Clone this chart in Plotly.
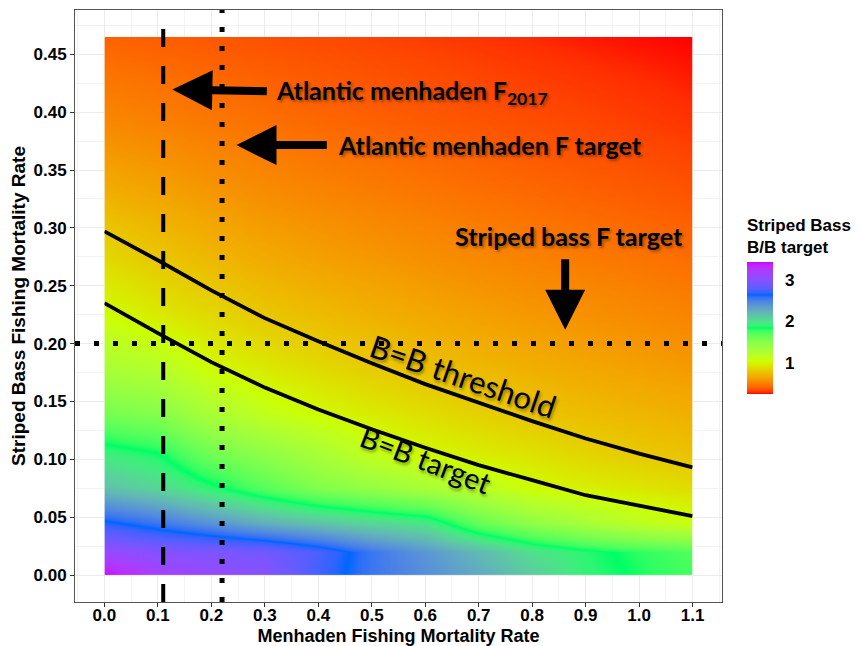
import numpy as np
import plotly.graph_objects as go

# ---------------- data ----------------
# grid of model runs: menhaden F (x) and striped bass F (y)
menhaden_F_grid = [0.0, 0.1, 0.2, 0.3, 0.4, 0.5, 0.6, 0.7, 0.8, 0.9, 1.0, 1.1]
bass_F_grid = [0.0, 0.02, 0.045, 0.075, 0.105, 0.14, 0.18, 0.225, 0.275, 0.33, 0.39, 0.465]

# Striped bass B / B target (rows = bass F, cols = menhaden F)
ssb_ratio = [
    [3.43, 3.18, 3.08, 3.00, 2.72, 2.55, 2.42, 2.28, 2.10, 1.90, 1.82, 1.75],
    [3.08, 2.98, 2.95, 2.90, 2.75, 2.55, 2.38, 2.20, 2.00, 1.88, 1.80, 1.72],
    [2.67, 2.55, 2.40, 2.25, 2.15, 2.05, 1.97, 1.65, 1.45, 1.30, 1.15, 1.07],
    [2.16, 2.05, 1.88, 1.70, 1.52, 1.42, 1.30, 1.18, 1.03, 0.976, 0.933, 0.886],
    [1.93, 1.85, 1.60, 1.46, 1.30, 1.12, 1.02, 0.963, 0.91, 0.853, 0.80, 0.77],
    [1.57, 1.50, 1.28, 1.12, 1.02, 0.951, 0.891, 0.833, 0.782, 0.746, 0.715, 0.69],
    [1.28, 1.20, 1.02, 0.94, 0.875, 0.81, 0.762, 0.725, 0.689, 0.657, 0.628, 0.60],
    [1.04, 0.95, 0.868, 0.792, 0.741, 0.698, 0.661, 0.628, 0.597, 0.569, 0.544, 0.52],
    [0.87, 0.79, 0.722, 0.669, 0.628, 0.594, 0.563, 0.536, 0.510, 0.486, 0.463, 0.44],
    [0.69, 0.643, 0.594, 0.555, 0.523, 0.497, 0.473, 0.450, 0.429, 0.408, 0.388, 0.368],
    [0.54, 0.512, 0.481, 0.453, 0.429, 0.409, 0.390, 0.372, 0.354, 0.337, 0.319, 0.30],
    [0.41, 0.395, 0.38, 0.36, 0.345, 0.33, 0.315, 0.30, 0.285, 0.27, 0.26, 0.25],
]

# contour lines
curve_menhaden_F = [0.0, 0.1, 0.2, 0.3, 0.4, 0.5, 0.6, 0.7, 0.8, 0.9, 1.0, 1.1]
threshold_bass_F = [0.297, 0.272, 0.246, 0.222, 0.202, 0.183, 0.165, 0.149, 0.133, 0.118, 0.105, 0.093]
target_bass_F = [0.235, 0.209, 0.184, 0.162, 0.143, 0.126, 0.110, 0.095, 0.082, 0.069, 0.060, 0.051]

# reference values
menhaden_F2017 = 0.11
menhaden_F_target = 0.22
bass_F_target = 0.20

x_ticks = [0.0, 0.1, 0.2, 0.3, 0.4, 0.5, 0.6, 0.7, 0.8, 0.9, 1.0, 1.1]
y_ticks = [0.0, 0.05, 0.1, 0.15, 0.2, 0.25, 0.3, 0.35, 0.4, 0.45]
cbar_ticks = [1, 2, 3]
zmin, zmax = 0.25, 3.43

# ---------------- colour scale (rainbow(5) interpolated in Lab) ----------------
anchors = ["#FF0000", "#CCFF00", "#00FF66", "#0066FF", "#CC00FF"]
M = np.array([[0.4124, 0.3576, 0.1805], [0.2126, 0.7152, 0.0722], [0.0193, 0.1192, 0.9505]])
Minv = np.linalg.inv(M)
WHITE = np.array([0.95047, 1.0, 1.08883])
d = 6 / 29


def to_lab(h):
    c = np.array([int(h[i:i + 2], 16) / 255 for i in (1, 3, 5)])
    lin = np.where(c <= 0.04045, c / 12.92, ((c + 0.055) / 1.055) ** 2.4)
    xyz = M @ lin / WHITE
    f = np.where(xyz > d ** 3, np.cbrt(xyz), xyz / (3 * d * d) + 4 / 29)
    return np.array([116 * f[1] - 16, 500 * (f[0] - f[1]), 200 * (f[1] - f[2])])


def to_hex(lab):
    fy = (lab[0] + 16) / 116
    f = np.array([fy + lab[1] / 500, fy, fy - lab[2] / 200])
    xyz = np.where(f > d, f ** 3, 3 * d * d * (f - 4 / 29)) * WHITE
    lin = np.clip(Minv @ xyz, 0, 1)
    c = np.where(lin <= 0.0031308, 12.92 * lin, 1.055 * np.power(lin, 1 / 2.4) - 0.055)
    c = np.clip(c, 0, 1)
    return "#%02x%02x%02x" % tuple(int(round(v * 255)) for v in c)


labs = [to_lab(h) for h in anchors]
colorscale = []
N = 80
for i in range(N + 1):
    t = i / N
    pos = t * (len(anchors) - 1)
    k = min(int(pos), len(anchors) - 2)
    u = pos - k
    colorscale.append([t, to_hex(labs[k] * (1 - u) + labs[k + 1] * u)])

# ---------------- figure ----------------
AX_FONT = "Liberation Sans"
ANN_FONT = "Lato"
SHADOW = "2px 2px 3px rgba(0,0,0,0.35)"

X_RANGE = [-0.055, 1.155]
Y_RANGE = [-0.02325, 0.48825]
# heatmap sub-panel spans exactly the data extent inside the expanded panel
hx_dom = [(menhaden_F_grid[0] - X_RANGE[0]) / (X_RANGE[1] - X_RANGE[0]),
          (menhaden_F_grid[-1] - X_RANGE[0]) / (X_RANGE[1] - X_RANGE[0])]
hy_dom = [(bass_F_grid[0] - Y_RANGE[0]) / (Y_RANGE[1] - Y_RANGE[0]),
          (bass_F_grid[-1] - Y_RANGE[0]) / (Y_RANGE[1] - Y_RANGE[0])]

fig = go.Figure()
# empty trace so that the main (decorated) panel x/y is created
fig.add_trace(go.Scatter(x=[], y=[], mode="lines", hoverinfo="skip", showlegend=False))

fig.add_trace(go.Heatmap(
    x=menhaden_F_grid, y=bass_F_grid, z=ssb_ratio, xaxis="x2", yaxis="y2",
    zmin=zmin, zmax=zmax, zsmooth="best", colorscale=colorscale,
    hoverinfo="skip",
    colorbar=dict(
        thickness=26, thicknessmode="pixels", len=132, lenmode="pixels",
        x=1.0386, xanchor="left", xpad=0, y=0.4628, yanchor="middle", ypad=0,
        outlinewidth=0, tickvals=cbar_ticks, ticks="outside", ticklen=9,
        tickcolor="white", tickwidth=1,
        tickfont=dict(family=AX_FONT, size=17, color="black", weight="bold"),
    ),
))

for ys in (threshold_bass_F, target_bass_F):
    fig.add_trace(go.Scatter(x=curve_menhaden_F, y=ys, mode="lines", xaxis="x2", yaxis="y2",
                             line=dict(color="black", width=3.8), hoverinfo="skip",
                             showlegend=False))

# reference lines
fig.add_shape(type="line", xref="x", x0=menhaden_F2017, x1=menhaden_F2017, y0=0, y1=1,
              yref="y domain", line=dict(color="black", width=4, dash="18px,19px"))
fig.add_shape(type="line", xref="x", x0=menhaden_F_target, x1=menhaden_F_target, y0=0, y1=1,
              yref="y domain", line=dict(color="black", width=5, dash="5px,14px"))
fig.add_shape(type="line", x0=0, x1=1, xref="x domain", yref="y", y0=bass_F_target,
              y1=bass_F_target, line=dict(color="black", width=5, dash="5px,14px"))

# text labels
bold_ann = dict(family=ANN_FONT, size=25, color="black", weight="bold", shadow=SHADOW)
fig.add_annotation(x=0.318, y=0.4178, text="Atlantic menhaden F<sub>2017</sub>", showarrow=False,
                   xanchor="left", yanchor="middle", font=bold_ann)
fig.add_annotation(x=0.4325, y=0.372, text="Atlantic menhaden F target", showarrow=False,
                   xanchor="left", yanchor="middle", font=bold_ann)
fig.add_annotation(x=0.651, y=0.2933, text="Striped bass F target", showarrow=False,
                   xanchor="left", yanchor="middle", font=bold_ann)
fig.add_annotation(x=0.671, y=0.172, text="B=B threshold", showarrow=False, textangle=19,
                   font=dict(family=ANN_FONT, size=31, color="black", shadow=SHADOW))
fig.add_annotation(x=0.602, y=0.0995, text="B=B target", showarrow=False, textangle=21,
                   font=dict(family=ANN_FONT, size=29, color="black", shadow=SHADOW))

# arrows (tip at x,y ; tail at ax,ay)
arrow_style = dict(showarrow=True, arrowhead=2, arrowsize=1, arrowwidth=8, arrowcolor="black",
                   xref="x", yref="y", axref="x", ayref="y", text="")
fig.add_annotation(x=0.127, y=0.4196, ax=0.3065, ay=0.418, **arrow_style)
fig.add_annotation(x=0.247, y=0.3715, ax=0.4187, ay=0.3715, **arrow_style)
fig.add_annotation(x=0.8617, y=0.212, ax=0.8617, ay=0.2742, **arrow_style)

axis_common = dict(
    showgrid=True, gridcolor="#ebebeb", gridwidth=1.1,
    zeroline=False, showline=True, mirror=True, linecolor="#555555", linewidth=1,
    ticks="outside", ticklen=4, tickcolor="#333333",
    tickfont=dict(size=17, color="black", weight="bold"),
    automargin=False,
)

# the page body has an 8px margin: shrink the figure so that the panel lands where wanted
fig.update_layout(
    width=851, height=638,
    margin=dict(l=67, r=137, t=2, b=44),
    paper_bgcolor="white", plot_bgcolor="white",
    showlegend=False,
    font=dict(family=AX_FONT, color="black"),
    xaxis=dict(range=X_RANGE, tickvals=x_ticks, tickformat=".1f", ticklabelstandoff=-6,
               minor=dict(dtick=0.05, showgrid=True, gridcolor="#f3f3f3", gridwidth=0.6),
               title=dict(text="Menhaden Fishing Mortality Rate", standoff=9,
                          font=dict(size=18, color="black", weight="bold")),
               **axis_common),
    yaxis=dict(range=Y_RANGE, tickvals=y_ticks, tickformat=".2f",
               minor=dict(dtick=0.025, showgrid=True, gridcolor="#f3f3f3", gridwidth=0.6),
               title=dict(text="Striped Bass Fishing Mortality Rate", standoff=4,
                          font=dict(size=19, color="black", weight="bold")),
               **axis_common),
    xaxis2=dict(domain=hx_dom, range=[menhaden_F_grid[0], menhaden_F_grid[-1]],
                visible=False, anchor="y2", fixedrange=True),
    yaxis2=dict(domain=hy_dom, range=[bass_F_grid[0], bass_F_grid[-1]],
                visible=False, anchor="x2", fixedrange=True),
)

fig.add_annotation(x=(745 - 75) / 647, y=(602 - 259) / 592, text="Striped Bass<br>B/B target",
                   showarrow=False, xref="paper", yref="paper", xanchor="left", yanchor="bottom",
                   align="left",
                   font=dict(family=AX_FONT, size=17, color="black", weight="bold"))

fig.write_html("out.html")
